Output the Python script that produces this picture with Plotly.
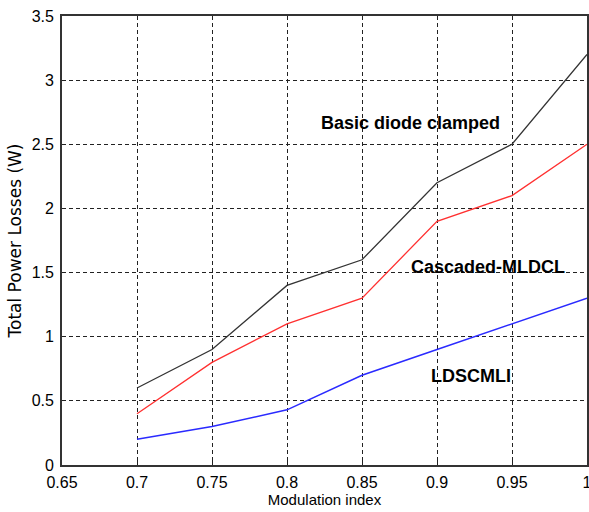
import plotly.graph_objects as go

# Modulation index values and total power losses (W) per topology
modulation_index = [0.7, 0.75, 0.8, 0.85, 0.9, 0.95, 1.0]
basic_diode_clamped = [0.6, 0.9, 1.4, 1.6, 2.2, 2.5, 3.2]
cascaded_mldcl = [0.4, 0.8, 1.1, 1.3, 1.9, 2.1, 2.5]
ldscmli = [0.2, 0.3, 0.43, 0.7, 0.9, 1.1, 1.3]

x_ticks = [0.65, 0.7, 0.75, 0.8, 0.85, 0.9, 0.95, 1.0]
x_tick_text = ["0.65", "0.7", "0.75", "0.8", "0.85", "0.9", "0.95", "1"]
y_ticks = [0, 0.5, 1, 1.5, 2, 2.5, 3, 3.5]
y_tick_text = ["0", "0.5", "1", "1.5", "2", "2.5", "3", "3.5"]

FONT = "Liberation Sans, Arial, sans-serif"

fig = go.Figure()
fig.add_trace(go.Scatter(x=modulation_index, y=basic_diode_clamped, mode="lines",
                         line=dict(color="#333333", width=1.3), name="Basic diode clamped"))
fig.add_trace(go.Scatter(x=modulation_index, y=cascaded_mldcl, mode="lines",
                         line=dict(color="#ff3030", width=1.3), name="Cascaded-MLDCL"))
fig.add_trace(go.Scatter(x=modulation_index, y=ldscmli, mode="lines",
                         line=dict(color="#2a2aff", width=1.5), name="LDSCMLI"))

label_font = dict(family=FONT, size=18, color="black")
fig.add_annotation(x=0.882, y=2.667, text="<b>Basic diode clamped</b>", showarrow=False, font=label_font)
fig.add_annotation(x=0.934, y=1.545, text="<b>Cascaded-MLDCL</b>", showarrow=False, font=label_font)
fig.add_annotation(x=0.9227, y=0.694, text="<b>LDSCMLI</b>", showarrow=False, font=label_font)

axis_common = dict(
    showgrid=True, gridcolor="#222222", griddash="4px,3px", gridwidth=1.2,
    showline=True, linecolor="#333333", linewidth=1.8, mirror=True,
    ticks="inside", ticklen=4, tickcolor="#222222",
    zeroline=False, automargin=False,
    tickfont=dict(family=FONT, size=16, color="black"),
)

fig.update_xaxes(range=[0.65, 1.0], tickvals=x_ticks, ticktext=x_tick_text,
                 ticklabeloverflow="allow", ticklabelstandoff=2,
                 title=dict(text="Modulation index", standoff=2,
                            font=dict(family=FONT, size=15, color="black")),
                 **axis_common)
fig.update_yaxes(range=[0, 3.5], tickvals=y_ticks, ticktext=y_tick_text,
                 ticklabelstandoff=3,
                 title=dict(text="Total Power Losses (W)", standoff=6,
                            font=dict(family="DejaVu Sans, sans-serif", size=17, color="black")),
                 **axis_common)

fig.update_layout(
    width=589, height=512,
    margin=dict(l=62, r=2, t=16, b=47),
    plot_bgcolor="white", paper_bgcolor="white",
    showlegend=False,
)

fig.write_html("out.html")
